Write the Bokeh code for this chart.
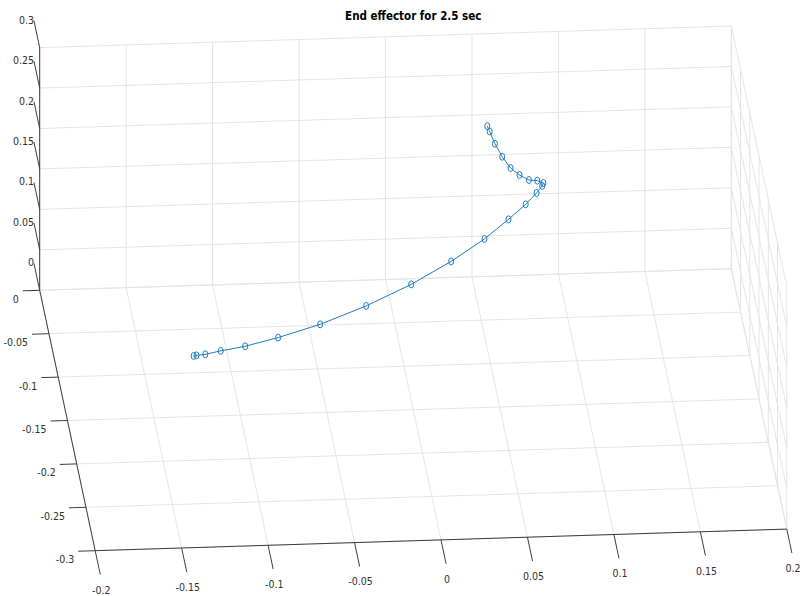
import numpy as np
from bokeh.plotting import figure
from bokeh.models import Range1d
from bokeh.embed import file_html
from bokeh.resources import INLINE
from bokeh.core.properties import value

# End-effector samples (metres)
traj_x = [-0.1295, -0.1279, -0.1229, -0.1140, -0.1000, -0.0809, -0.0562, -0.0287,
          -0.0015, 0.0232, 0.0440, 0.0595, 0.0706, 0.0779, 0.0818, 0.0827,
          0.0791, 0.0739, 0.0685, 0.0635, 0.0593, 0.0558, 0.0535, 0.0525]
traj_y = [-0.1732, -0.1733, -0.1745, -0.1749, -0.1760, -0.1756, -0.1721, -0.1638,
          -0.1528, -0.1381, -0.1238, -0.1087, -0.0977, -0.0888, -0.0828, -0.0804,
          -0.0812, -0.0848, -0.0843, -0.0824, -0.0766, -0.0698, -0.0630, -0.0595]
traj_z = [0.100, 0.1007, 0.103, 0.107, 0.113, 0.122, 0.133, 0.145,
          0.158, 0.169, 0.180, 0.187, 0.193, 0.197, 0.199, 0.200,
          0.204, 0.209, 0.215, 0.222, 0.230, 0.239, 0.247, 0.250]

# Axis ticks and their labels
x_ticks = [-0.2, -0.15, -0.1, -0.05, 0.0, 0.05, 0.1, 0.15, 0.2]
x_labels = ["-0.2", "-0.15", "-0.1", "-0.05", "0", "0.05", "0.1", "0.15", "0.2"]
y_ticks = [-0.3, -0.25, -0.2, -0.15, -0.1, -0.05, 0.0]
y_labels = ["-0.3", "-0.25", "-0.2", "-0.15", "-0.1", "-0.05", "0"]
z_ticks = [0.0, 0.05, 0.1, 0.15, 0.2, 0.25, 0.3]
z_labels = ["0", "0.05", "0.1", "0.15", "0.2", "0.25", "0.3"]

title_text = "End effector for 2.5 sec"

XMIN, XMAX = x_ticks[0], x_ticks[-1]
YMIN, YMAX = y_ticks[0], y_ticks[-1]
ZMIN, ZMAX = z_ticks[0], z_ticks[-1]

# Orthographic camera: page position of the data origin and the page step
# produced by one unit along x, y and z.
ORIGIN = (385.0, 279.0)
EX = (1729.0, -54.0)
EY = (-185.0, -868.0)
EZ = (0.0, -809.0)


def project(x, y, z):
    x, y, z = np.broadcast_arrays(np.asarray(x, float), np.asarray(y, float), np.asarray(z, float))
    u = ORIGIN[0] + EX[0] * x + EY[0] * y + EZ[0] * z
    v = ORIGIN[1] + EX[1] * x + EY[1] * y + EZ[1] * z
    return u, v


def segments(pairs):
    xs, ys = [], []
    for a, b in pairs:
        u, v = project([a[0], b[0]], [a[1], b[1]], [a[2], b[2]])
        xs.append(list(u))
        ys.append(list(v))
    return xs, ys


FONT = "Liberation Sans Narrow, DejaVu Sans Condensed, Arial, sans-serif"
GRID = "#e4e4e4"
AXIS = "#3c3c3c"
TEXT = "#303030"
BLUE = "#1f7cc2"

p = figure(width=800, height=596, x_range=Range1d(0, 800), y_range=Range1d(596, 0),
           x_axis_type=None, y_axis_type=None, min_border=0,
           toolbar_location=None, output_backend="svg")
p.xgrid.visible = False
p.ygrid.visible = False
p.outline_line_color = None
p.background_fill_color = "white"
p.border_fill_color = "white"

# grid on the floor (z = ZMIN), back wall (y = YMAX) and side wall (x = XMAX)
grid_pairs = []
for xt in x_ticks:
    grid_pairs.append(((xt, YMIN, ZMIN), (xt, YMAX, ZMIN)))
    grid_pairs.append(((xt, YMAX, ZMIN), (xt, YMAX, ZMAX)))
for yt in y_ticks:
    grid_pairs.append(((XMIN, yt, ZMIN), (XMAX, yt, ZMIN)))
    grid_pairs.append(((XMAX, yt, ZMIN), (XMAX, yt, ZMAX)))
for zt in z_ticks:
    grid_pairs.append(((XMIN, YMAX, zt), (XMAX, YMAX, zt)))
    grid_pairs.append(((XMAX, YMIN, zt), (XMAX, YMAX, zt)))
gx, gy = segments(grid_pairs)
p.multi_line(gx, gy, line_color=GRID, line_width=1)

# axis lines and tick marks
X_TICK, Y_TICK, Z_TICK = 0.0275, 0.0098, 0.031
axis_pairs = [((XMIN, YMIN, ZMIN), (XMAX, YMIN, ZMIN)),
              ((XMIN, YMIN, ZMIN), (XMIN, YMAX, ZMIN)),
              ((XMIN, YMAX, ZMIN), (XMIN, YMAX, ZMAX))]
for xt in x_ticks:
    axis_pairs.append(((xt, YMIN, ZMIN), (xt, YMIN - X_TICK, ZMIN)))
for yt in y_ticks:
    axis_pairs.append(((XMIN, yt, ZMIN), (XMIN - Y_TICK, yt, ZMIN)))
for zt in z_ticks:
    axis_pairs.append(((XMIN, YMAX, zt), (XMIN, YMAX + Z_TICK, zt)))
ax, ay = segments(axis_pairs)
p.multi_line(ax, ay, line_color=AXIS, line_width=1)

# tick labels
LABEL_SIZE = "10.5px"
ux, vx = project(x_ticks, YMIN - X_TICK, ZMIN)
p.text(ux + 1, vx + 15, text=x_labels, text_align="center", text_baseline="middle",
       text_font=value(FONT), text_font_size=LABEL_SIZE, text_color=TEXT)
uy, vy = project(XMIN - Y_TICK, y_ticks, ZMIN)
p.text(uy - 4, vy + 8, text=y_labels, text_align="right", text_baseline="middle",
       text_font=value(FONT), text_font_size=LABEL_SIZE, text_color=TEXT)
uz, vz = project(XMIN, YMAX + Z_TICK, z_ticks)
p.text(uz, vz - 1, text=z_labels, text_align="right", text_baseline="middle",
       text_font=value(FONT), text_font_size=LABEL_SIZE, text_color=TEXT)

# title centred over the projected box
cu, cv = project([XMIN, XMAX, XMIN, XMAX], [YMIN, YMAX, YMAX, YMIN], [ZMIN, ZMAX, ZMAX, ZMIN])
p.text([(cu.min() + cu.max()) / 2], [cv.min() - 10], text=[title_text],
       text_align="center", text_baseline="middle", text_font=value(FONT),
       text_font_size="11.5px", text_font_style="bold", text_color="black")

# trajectory
tu, tv = project(traj_x, traj_y, traj_z)
p.line(tu, tv, line_color=BLUE, line_width=1)
p.ellipse(tu, tv, width=5, height=7, width_units="screen", height_units="screen",
          fill_color=None, line_color=BLUE, line_width=1)

open("out.html", "w").write(file_html(p, INLINE))
